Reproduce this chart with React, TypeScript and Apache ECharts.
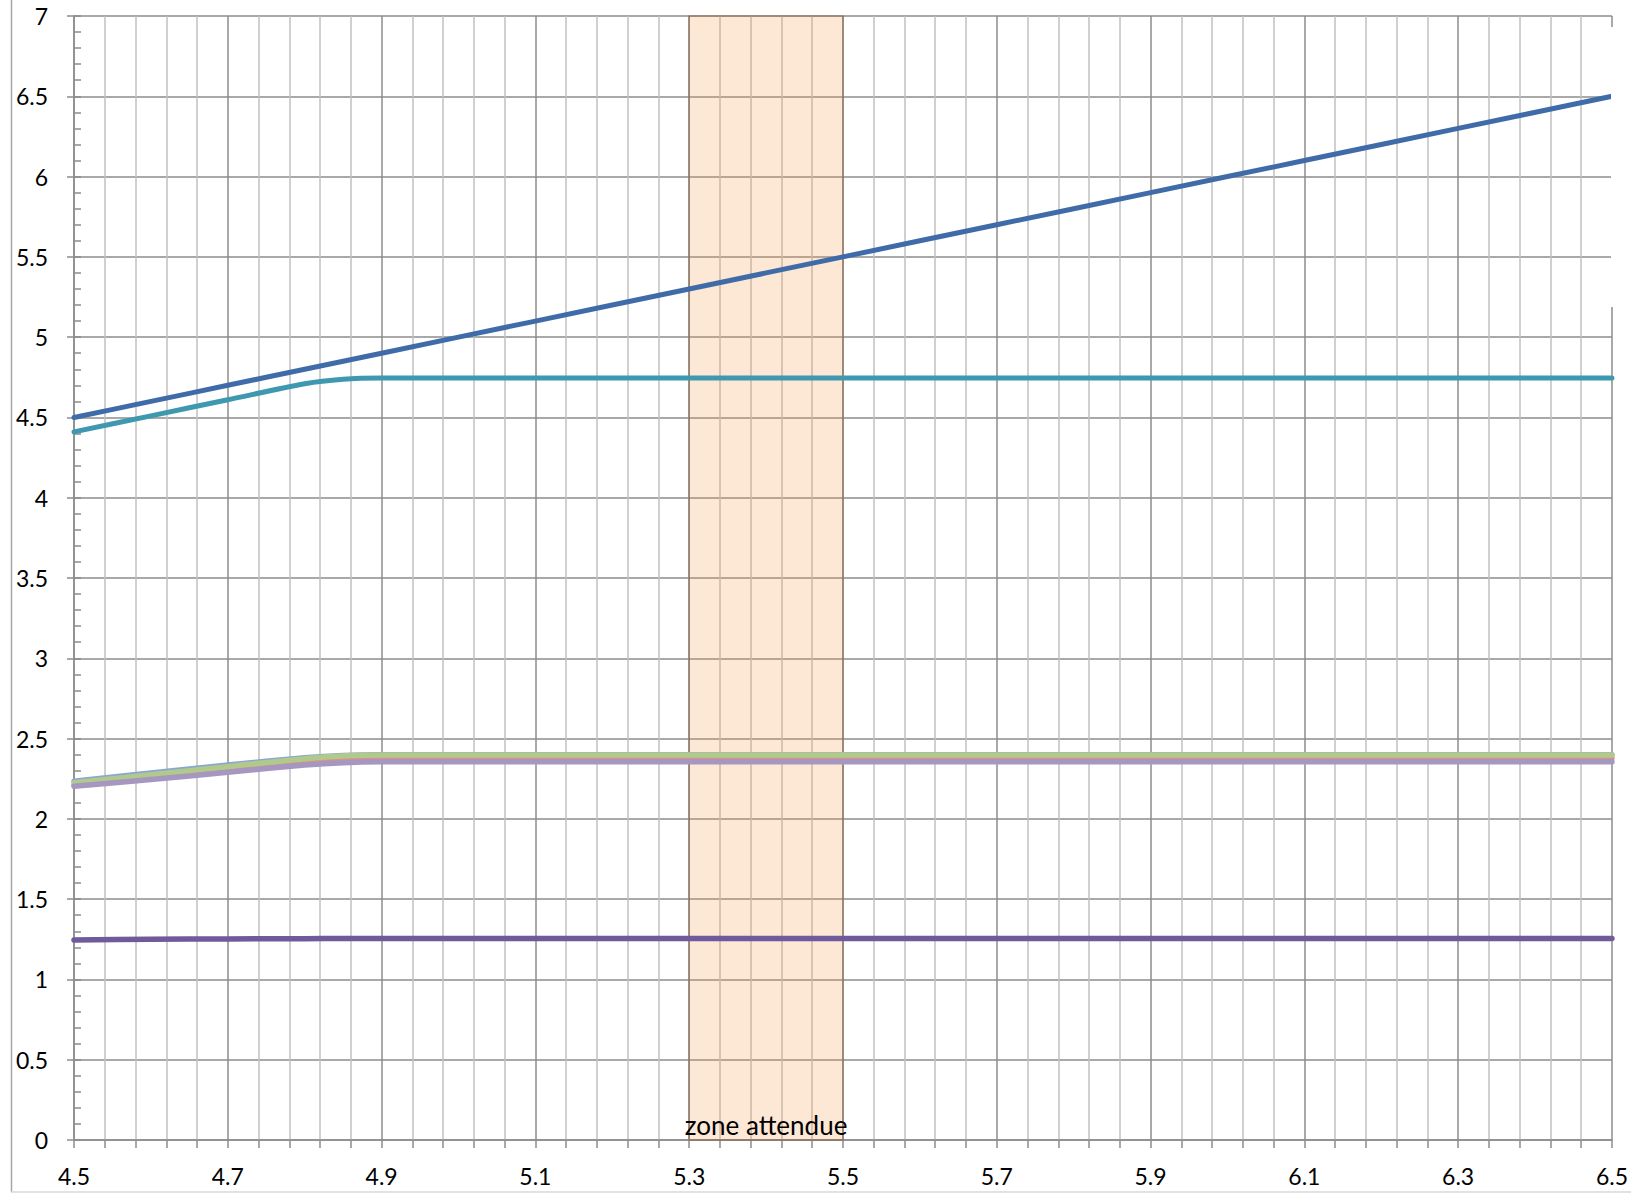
import React, { useEffect, useRef } from "react";
import * as echarts from "echarts";

const xValues = [4.5, 4.6, 4.7, 4.8, 4.85, 4.9, 5.1, 5.3, 5.5, 5.7, 5.9, 6.1, 6.3, 6.5];
const blueLine = [4.5, 4.6, 4.7, 4.8, 4.85, 4.9, 5.1, 5.3, 5.5, 5.7, 5.9, 6.1, 6.3, 6.5];
const tealLine = [4.41, 4.51, 4.61, 4.71, 4.738, 4.745, 4.745, 4.745, 4.745, 4.745, 4.745, 4.745, 4.745, 4.745];
const lightBlueLine = [2.235, 2.285, 2.335, 2.38, 2.395, 2.4, 2.4, 2.4, 2.4, 2.4, 2.4, 2.4, 2.4, 2.4];
const greenLine = [2.225, 2.275, 2.325, 2.375, 2.392, 2.397, 2.397, 2.397, 2.397, 2.397, 2.397, 2.397, 2.397, 2.397];
const redLine = [2.21, 2.26, 2.31, 2.355, 2.372, 2.377, 2.377, 2.377, 2.377, 2.377, 2.377, 2.377, 2.377, 2.377];
const purpleLine = [2.203, 2.245, 2.29, 2.335, 2.35, 2.355, 2.355, 2.355, 2.355, 2.355, 2.355, 2.355, 2.355, 2.355];
const darkPurpleLine = [1.245, 1.25, 1.252, 1.254, 1.255, 1.255, 1.255, 1.255, 1.255, 1.255, 1.255, 1.255, 1.255, 1.255];

const zoneStart = 5.3;
const zoneEnd = 5.5;
const zoneLabel = "zone attendue";

const FONT = "Lato, 'Open Sans', sans-serif";

function pairs(ys: number[]) {
  return xValues.map((x, i) => [x, ys[i]]);
}

function lineSeries(name: string, ys: number[], color: string, width: number) {
  return {
    name,
    type: "line",
    data: pairs(ys),
    showSymbol: false,
    symbol: "none",
    smooth: 0.3,
    lineStyle: { color, width, cap: "round", join: "round" },
    itemStyle: { color },
    z: 2,
  };
}

export default function App() {
  const ref = useRef<HTMLDivElement>(null);
  useEffect(() => {
    if (!ref.current) return;
    const chart = echarts.init(ref.current, undefined, { renderer: "svg" });
    const fmt = (v: number) => String(Math.round(v * 10) / 10);
    chart.setOption({
      animation: false,
      backgroundColor: "#ffffff",
      grid: { left: 74, top: 16, right: 13, bottom: 53, containLabel: false },
      xAxis: {
        type: "value",
        min: 4.5,
        max: 6.5,
        interval: 0.2,
        axisLine: { show: true, lineStyle: { color: "#8c8c8c", width: 1.5 } },
        axisTick: { show: true, length: 8, lineStyle: { color: "#8c8c8c", width: 1.5 } },
        minorTick: { show: true, splitNumber: 5, length: 8, lineStyle: { color: "#8c8c8c", width: 1.5 } },
        splitLine: { show: true, lineStyle: { color: "#8c8c8c", width: 1.5 } },
        minorSplitLine: { show: true, lineStyle: { color: "#c0c0c0", width: 1.5 } },
        axisLabel: { fontFamily: FONT, fontSize: 23, color: "#000", margin: 24, formatter: fmt },
      },
      yAxis: [
        {
          type: "value",
          min: 0,
          max: 7,
          interval: 0.5,
          axisLine: { show: true, lineStyle: { color: "#8c8c8c", width: 1.5 } },
          axisTick: { show: true, inside: true, length: 7, lineStyle: { color: "#8c8c8c", width: 1.5 } },
          minorTick: { show: true, splitNumber: 5, length: 7, lineStyle: { color: "#8c8c8c", width: 1.5 } },
          splitLine: { show: true, lineStyle: { color: "#8c8c8c", width: 1.5 } },
          minorSplitLine: { show: false },
          axisLabel: { fontFamily: FONT, fontSize: 23, color: "#000", margin: 26, formatter: fmt },
        },
        {
          type: "value",
          min: 0,
          max: 7,
          interval: 0.5,
          position: "left",
          axisLine: { show: false },
          axisTick: { show: true, inside: false, length: 7, lineStyle: { color: "#8c8c8c", width: 1.5 } },
          splitLine: { show: false },
          axisLabel: { show: false },
        },
      ],
      series: [
        lineSeries("s7", darkPurpleLine, "#6f5a9c", 5.5),
        lineSeries("s3", lightBlueLine, "#8aa6d4", 5.5),
        lineSeries("s5", redLine, "#d9918c", 5.5),
        lineSeries("s4", greenLine, "#b2c98c", 5.5),
        lineSeries("s6", purpleLine, "#a697c1", 5.5),
        lineSeries("s2", tealLine, "#3d98b0", 5),
        lineSeries("s1", blueLine, "#3f6ca9", 5),
        {
          name: "zone",
          type: "line",
          data: [],
          z: 5,
          markArea: {
            silent: true,
            itemStyle: {
              color: "rgba(247,150,70,0.22)",
              borderColor: "rgba(120,80,50,0.45)",
              borderWidth: 1.5,
            },
            label: {
              show: true,
              position: "insideBottom",
              distance: 3,
              formatter: zoneLabel,
              fontFamily: FONT,
              fontSize: 26,
              color: "#000",
            },
            data: [[{ xAxis: zoneStart, yAxis: 0 }, { xAxis: zoneEnd, yAxis: 7 }]],
          },
        },
      ],
      graphic: [
        {
          type: "rect",
          z: 100,
          shape: { x: 1611, y: 27, width: 40, height: 280 },
          style: { fill: "#ffffff" },
        },
        {
          type: "line",
          z: 100,
          shape: { x1: 11.5, y1: -5, x2: 11.5, y2: 1192 },
          style: { stroke: "#a6a6a6", lineWidth: 1.5 },
        },
        {
          type: "line",
          z: 100,
          shape: { x1: 11, y1: 1192, x2: 1640, y2: 1192 },
          style: { stroke: "#d9d9d9", lineWidth: 1.5 },
        },
      ],
    });
    return () => chart.dispose();
  }, []);
  return (
    <div
      ref={ref}
      style={{ position: "fixed", left: 0, top: 0, width: 1631, height: 1193 }}
    />
  );
}
